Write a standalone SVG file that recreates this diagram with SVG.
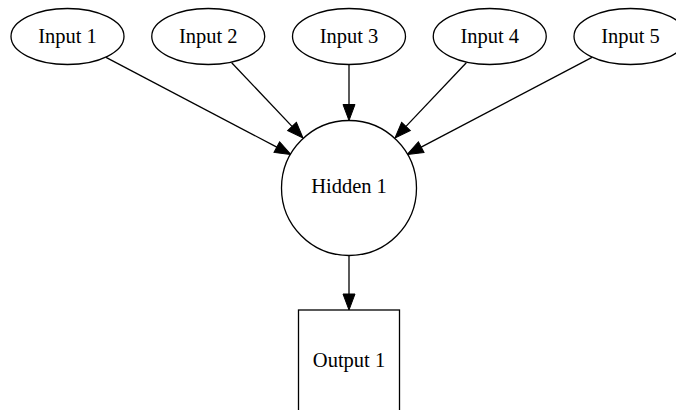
<svg xmlns="http://www.w3.org/2000/svg" width="676" height="410" viewBox="0 0 676 410">
<style>
.n{fill:#fff;stroke:#000;stroke-width:1.3}
.t{font-family:"Liberation Serif","Times New Roman",serif;font-size:20.5px;text-anchor:middle;fill:#000}
.e{stroke:#000;stroke-width:1.3;fill:none;marker-end:url(#arr)}
</style>
<defs>
<marker id="arr" markerUnits="userSpaceOnUse" markerWidth="18" markerHeight="14" refX="0" refY="6.5" orient="auto" overflow="visible">
<path d="M0,0.5 L16,6.5 L0,12.5 Z" fill="#000" stroke="#000" stroke-width="1"/>
</marker>
</defs>
<rect width="676" height="410" fill="#fff"/>
<g id="edges">
<line class="e" x1="106" y1="57.3" x2="276.8" y2="147.1"/>
<line class="e" x1="231.7" y1="62.7" x2="292" y2="126.4"/>
<line class="e" x1="349" y1="65" x2="349" y2="104.5"/>
<line class="e" x1="466.3" y1="62.7" x2="406" y2="126.4"/>
<line class="e" x1="592" y1="57.3" x2="421.2" y2="147.1"/>
<line class="e" x1="349" y1="255.5" x2="349" y2="294"/>
</g>
<g id="input1"><ellipse class="n" cx="67.5" cy="36.5" rx="56.5" ry="28"/><text class="t" x="67.5" y="43">Input 1</text></g>
<g id="input2"><ellipse class="n" cx="208.25" cy="36.5" rx="56.5" ry="28"/><text class="t" x="208.25" y="43">Input 2</text></g>
<g id="input3"><ellipse class="n" cx="349" cy="36.5" rx="56.5" ry="28"/><text class="t" x="349" y="43">Input 3</text></g>
<g id="input4"><ellipse class="n" cx="489.75" cy="36.5" rx="56.5" ry="28"/><text class="t" x="489.75" y="43">Input 4</text></g>
<g id="input5"><ellipse class="n" cx="630.5" cy="36.5" rx="56.5" ry="28"/><text class="t" x="630.5" y="43">Input 5</text></g>
<g id="hidden1"><circle class="n" cx="349" cy="188" r="67.5"/><text class="t" x="349" y="193">Hidden 1</text></g>
<g id="output1"><rect class="n" x="298.5" y="310" width="101" height="120"/><text class="t" x="349" y="366.5">Output 1</text></g>
</svg>
